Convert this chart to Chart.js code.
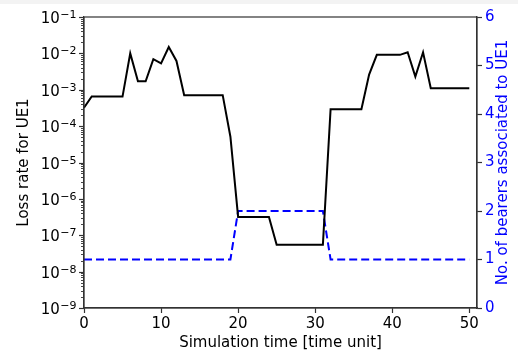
<!DOCTYPE html>
<html>
<head>
<meta charset="utf-8">
<script src="https://cdn.jsdelivr.net/npm/chart.js@4.4.1/dist/chart.umd.min.js"></script>
<style>
  html, body { margin: 0; padding: 0; background: #fff; }
  #chart { display: block; }
</style>
</head>
<body>
<canvas id="chart" width="518" height="356"></canvas>
<script>
// loss rate (black, log axis) - breakpoints
const lossTimes = [0, 1, 5, 6, 7, 8, 9, 10, 11, 12, 13, 18, 19, 20, 24, 25, 31, 32, 36, 37, 38, 41, 42, 43, 44, 45, 50];
const lossRates = [3.2e-4, 6.5e-4, 6.5e-4, 1e-2, 1.7e-3, 1.7e-3, 6.9e-3, 5.3e-3, 1.5e-2, 6.2e-3, 7.1e-4, 7.1e-4, 5.1e-5,
                   3.2e-7, 3.2e-7, 5.5e-8, 5.5e-8, 2.9e-4, 2.9e-4, 2.6e-3, 9.1e-3, 9.1e-3, 1.07e-2, 2.3e-3, 1.07e-2, 1.1e-3, 1.1e-3];

// bearers (blue dashed, right axis)
const bearerTimes = [0, 19, 20, 31, 32, 50];
const bearerCounts = [1, 1, 2, 2, 1, 1];

// ticks
const xTicks = [0, 10, 20, 30, 40, 50];
const yMajorTicks = [1e-9, 1e-8, 1e-7, 1e-6, 1e-5, 1e-4, 1e-3, 1e-2, 1e-1];
const yTickExponents = ['−9', '−8', '−7', '−6', '−5', '−4', '−3', '−2', '−1'];
const y1Ticks = [0, 1, 2, 3, 4, 5, 6];

const FAMILY = "'DejaVu Sans', sans-serif";
const FONT = { family: FAMILY, size: 15 };
const BLUE = '#0000ff';
const AXIS = '#333';

// minor log ticks 2..9 inside every decade
const yAllTicks = [];
yMajorTicks.forEach((m, i) => {
  yAllTicks.push(m);
  if (i < yMajorTicks.length - 1) {
    for (let k = 2; k <= 9; k++) yAllTicks.push(k * m);
  }
});

function majorIndex(v) {
  return yMajorTicks.findIndex(m => Math.abs(Math.log10(v) - Math.log10(m)) < 1e-6);
}

const framePlugin = {
  id: 'frame',
  beforeDraw(chart) {
    const { ctx } = chart;
    ctx.save();
    ctx.fillStyle = '#fff';
    ctx.fillRect(0, 0, chart.width, chart.height);
    ctx.fillStyle = '#f3f3f3';
    ctx.fillRect(0, 0, chart.width, 4);
    ctx.restore();
  },
  afterDraw(chart) {
    const { ctx, chartArea: a } = chart;
    const y = chart.scales.y;
    ctx.save();
    // box
    ctx.strokeStyle = AXIS;
    ctx.lineWidth = 1.2;
    ctx.strokeRect(a.left, a.top, a.right - a.left, a.bottom - a.top);
    // left log ticks, major longer than minor, with 10^n labels
    y.ticks.forEach(t => {
      const py = Math.round(y.getPixelForValue(t.value)) + 0.5;
      const mi = majorIndex(t.value);
      const major = mi >= 0;
      ctx.strokeStyle = AXIS;
      ctx.lineWidth = major ? 1.2 : 0.9;
      ctx.beginPath();
      ctx.moveTo(a.left - (major ? 5 : 3), py);
      ctx.lineTo(a.left, py);
      ctx.stroke();
      if (major) {
        const right = a.left - 8;
        ctx.fillStyle = '#000';
        ctx.textAlign = 'left';
        ctx.textBaseline = 'alphabetic';
        ctx.font = `11px ${FAMILY}`;
        const w2 = ctx.measureText(yTickExponents[mi]).width;
        ctx.font = `15px ${FAMILY}`;
        const w1 = ctx.measureText('10').width;
        const x0 = right - w1 - w2;
        ctx.fillText('10', x0, py + 5.5);
        ctx.font = `11px ${FAMILY}`;
        ctx.fillText(yTickExponents[mi], x0 + w1 + 0.5, py + 0.5);
      }
    });
    // right axis title, reading bottom to top
    ctx.translate(503, (a.top + a.bottom) / 2);
    ctx.rotate(-Math.PI / 2);
    ctx.fillStyle = BLUE;
    ctx.font = `${FONT.size}px ${FAMILY}`;
    ctx.textAlign = 'center';
    ctx.textBaseline = 'middle';
    ctx.fillText('No. of bearers associated to UE1', 0, 0);
    ctx.restore();
  },
};

new Chart(document.getElementById('chart'), {
  type: 'line',
  data: {
    datasets: [
      {
        label: 'Loss rate',
        data: lossTimes.map((t, i) => ({ x: t, y: lossRates[i] })),
        yAxisID: 'y',
        borderColor: '#000',
        borderWidth: 2,
        pointRadius: 0,
        tension: 0,
      },
      {
        label: 'Bearers',
        data: bearerTimes.map((t, i) => ({ x: t, y: bearerCounts[i] })),
        yAxisID: 'y1',
        borderColor: BLUE,
        borderWidth: 2,
        borderDash: [8, 4],
        pointRadius: 0,
        tension: 0,
      },
    ],
  },
  options: {
    responsive: false,
    animation: false,
    layout: { padding: { top: 17, left: 0, right: 0, bottom: 0 } },
    plugins: { legend: { display: false }, tooltip: { enabled: false } },
    scales: {
      x: {
        type: 'linear',
        min: 0,
        max: 51,
        afterBuildTicks: s => { s.ticks = xTicks.map(v => ({ value: v })); },
        afterFit: s => { s.height = 48; },
        grid: { drawOnChartArea: false, tickLength: 5, tickColor: AXIS, tickWidth: 1.2 },
        border: { color: AXIS, width: 1.2 },
        ticks: { color: '#000', font: FONT, padding: 2, maxRotation: 0 },
        title: { display: true, text: 'Simulation time [time unit]', color: '#000', font: FONT, padding: { top: 0, bottom: 4 } },
      },
      y: {
        type: 'logarithmic',
        position: 'left',
        min: 1e-9,
        max: 1e-1,
        afterBuildTicks: s => { s.ticks = yAllTicks.map(v => ({ value: v, major: majorIndex(v) >= 0 })); },
        afterFit: s => { s.width = 84; },
        grid: { drawOnChartArea: false, drawTicks: false },
        border: { color: AXIS, width: 1.2 },
        ticks: { autoSkip: false, font: FONT, padding: 8, callback: () => '' },
        title: { display: true, text: 'Loss rate for UE1', color: '#000', font: FONT, padding: { top: 15, bottom: 0 } },
      },
      y1: {
        type: 'linear',
        position: 'right',
        min: 0,
        max: 6,
        afterBuildTicks: s => { s.ticks = y1Ticks.map(v => ({ value: v })); },
        afterFit: s => { s.width = 41; },
        grid: { drawOnChartArea: false, tickLength: 5, tickColor: AXIS, tickWidth: 1.2 },
        border: { color: AXIS, width: 1.2 },
        ticks: { color: BLUE, font: FONT, padding: 3 },
      },
    },
  },
  plugins: [framePlugin],
});
</script>
</body>
</html>
